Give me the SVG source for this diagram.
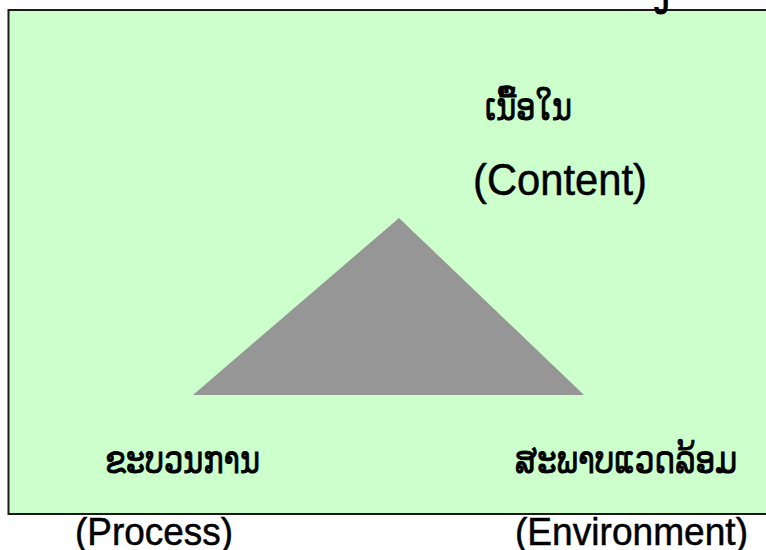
<svg xmlns="http://www.w3.org/2000/svg" width="766" height="550" viewBox="0 0 766 550">
<style>
.lao{font-family:"DejaVu Sans","Noto Sans",sans-serif;font-size:37px;fill:#000;stroke:#000;stroke-width:0.9}
.en{font-family:"Liberation Sans",Arial,sans-serif;font-size:45px;fill:#000;stroke:#000;stroke-width:0.5}
.en2{font-family:"Liberation Sans",Arial,sans-serif;font-size:39px;fill:#000;stroke:#000;stroke-width:0.5}
</style>
<rect width="766" height="550" fill="#ffffff"/>
<g id="frame">
<rect x="8.5" y="10" width="770" height="504" fill="#ccffcc" stroke="#1a1a1a" stroke-width="2"/>
</g>
<g id="cut-title"><text class="lao" x="652" y="5">ງ</text></g>
<g id="triangle"><polygon points="399,218 193,395 584,395" fill="#969696"/></g>
<g id="content">
<text class="lao" x="485" y="120" textLength="87" lengthAdjust="spacingAndGlyphs">ເນື້ອໃນ</text>
<text class="en" x="473" y="195" textLength="174" lengthAdjust="spacingAndGlyphs">(Content)</text>
</g>
<g id="process">
<text class="lao" x="105" y="473" textLength="155" lengthAdjust="spacingAndGlyphs">ຂະບວນການ</text>
<text class="en2" x="75" y="545" textLength="158" lengthAdjust="spacingAndGlyphs">(Process)</text>
</g>
<g id="environment">
<text class="lao" x="515" y="473" textLength="222" lengthAdjust="spacingAndGlyphs">ສະພາບແວດລ້ອມ</text>
<text class="en2" x="515" y="545" textLength="233" lengthAdjust="spacingAndGlyphs">(Environment)</text>
</g>
<g id="connectors"></g>
</svg>
